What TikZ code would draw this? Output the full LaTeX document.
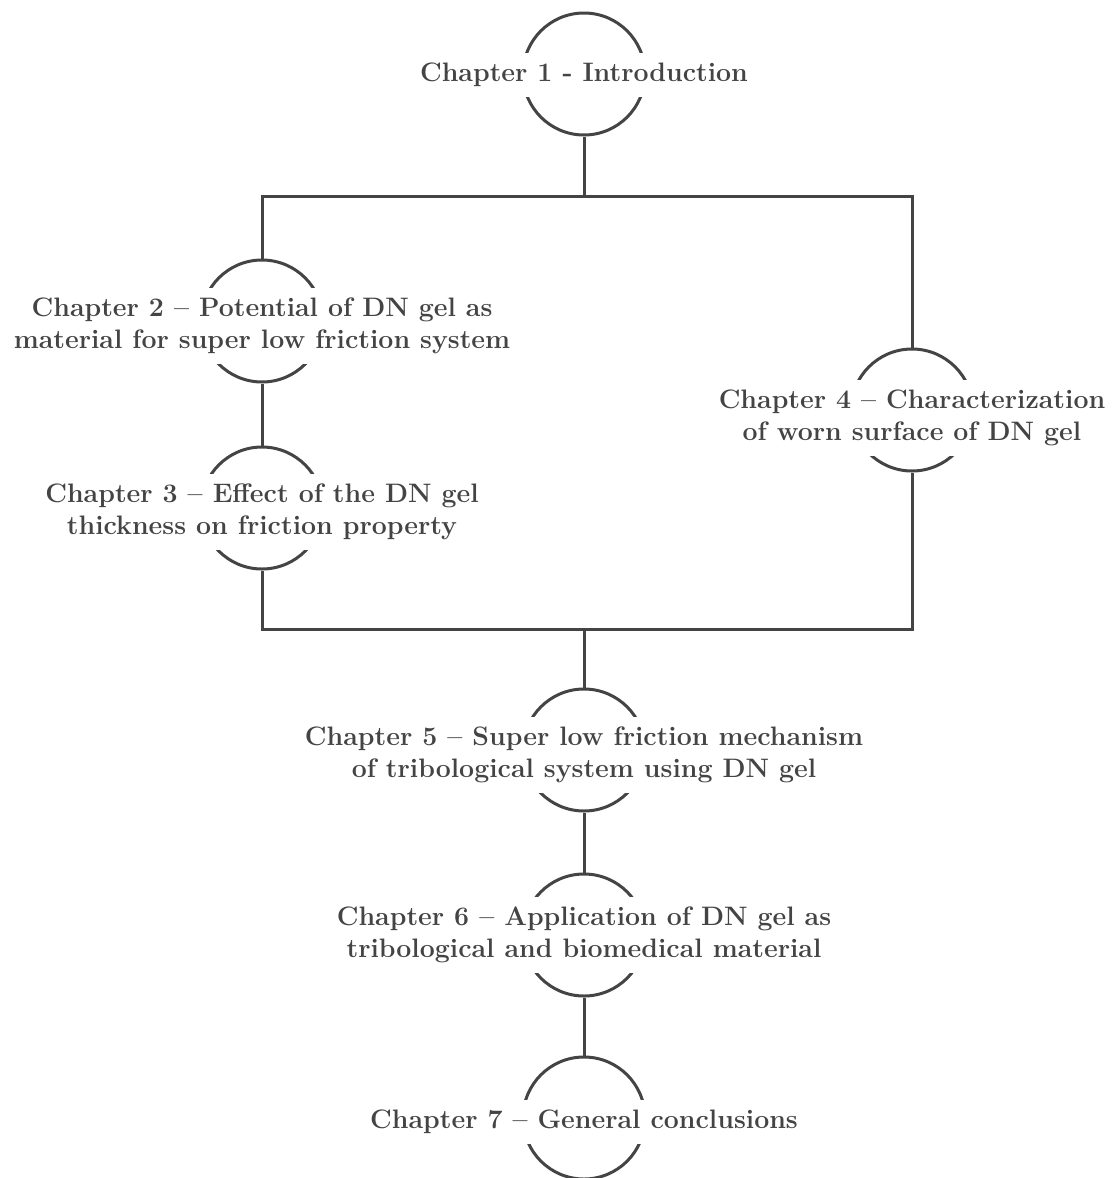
\documentclass[tikz,border=0pt]{standalone}
\usepackage{tikz}
\definecolor{ink}{HTML}{444444}
\begin{document}
\begin{tikzpicture}[x=1pt,y=-1pt,
  ring/.style={circle,draw=ink,line width=3pt,minimum size=122pt,inner sep=0pt},
  label/.style={fill=white,text=ink,align=center,inner xsep=4pt,inner ysep=10pt,
    font=\fontsize{26.7}{32}\selectfont\bfseries},
  link/.style={draw=ink,line width=3pt}]
\useasboundingbox (0,0) rectangle (1114,1178);
\node[ring] (c1) at (584,74) {};
\node[ring] (c2) at (262,321) {};
\node[ring] (c3) at (262,508) {};
\node[ring] (c4) at (912,410) {};
\node[ring] (c5) at (584,750) {};
\node[ring] (c6) at (584,935) {};
\node[ring] (c7) at (584,1118) {};
\node[label] (t1) at (584,75) {Chapter 1 - Introduction};
\node[label] (t2) at (262,326) {Chapter 2 -- Potential of DN gel as\\material for super low friction system};
\node[label] (t3) at (262,512) {Chapter 3 -- Effect of the DN gel\\thickness on friction property};
\node[label] (t4) at (912,418) {Chapter 4 -- Characterization\\of worn surface of DN gel};
\node[label] (t5) at (584,755) {Chapter 5 -- Super low friction mechanism\\of tribological system using DN gel};
\node[label] (t6) at (584,935) {Chapter 6 -- Application of DN gel as\\tribological and biomedical material};
\node[label] (t7) at (584,1122) {Chapter 7 -- General conclusions};
\coordinate (b1) at (584,196);
\coordinate (b2) at (584,629);
\draw[link] (c1.south) -- (c1.south |- b1);
\draw[link] (c2.north) -- (c2.north |- b1) -- (c4.north |- b1) -- (c4.north);
\draw[link] (c2.south) -- (c3.north);
\draw[link] (c3.south) -- (c3.south |- b2) -- (c4.south |- b2) -- (c4.south);
\draw[link] (c5.north) -- (c5.north |- b2);
\draw[link] (c5.south) -- (c6.north);
\draw[link] (c6.south) -- (c7.north);
\end{tikzpicture}
\end{document}
